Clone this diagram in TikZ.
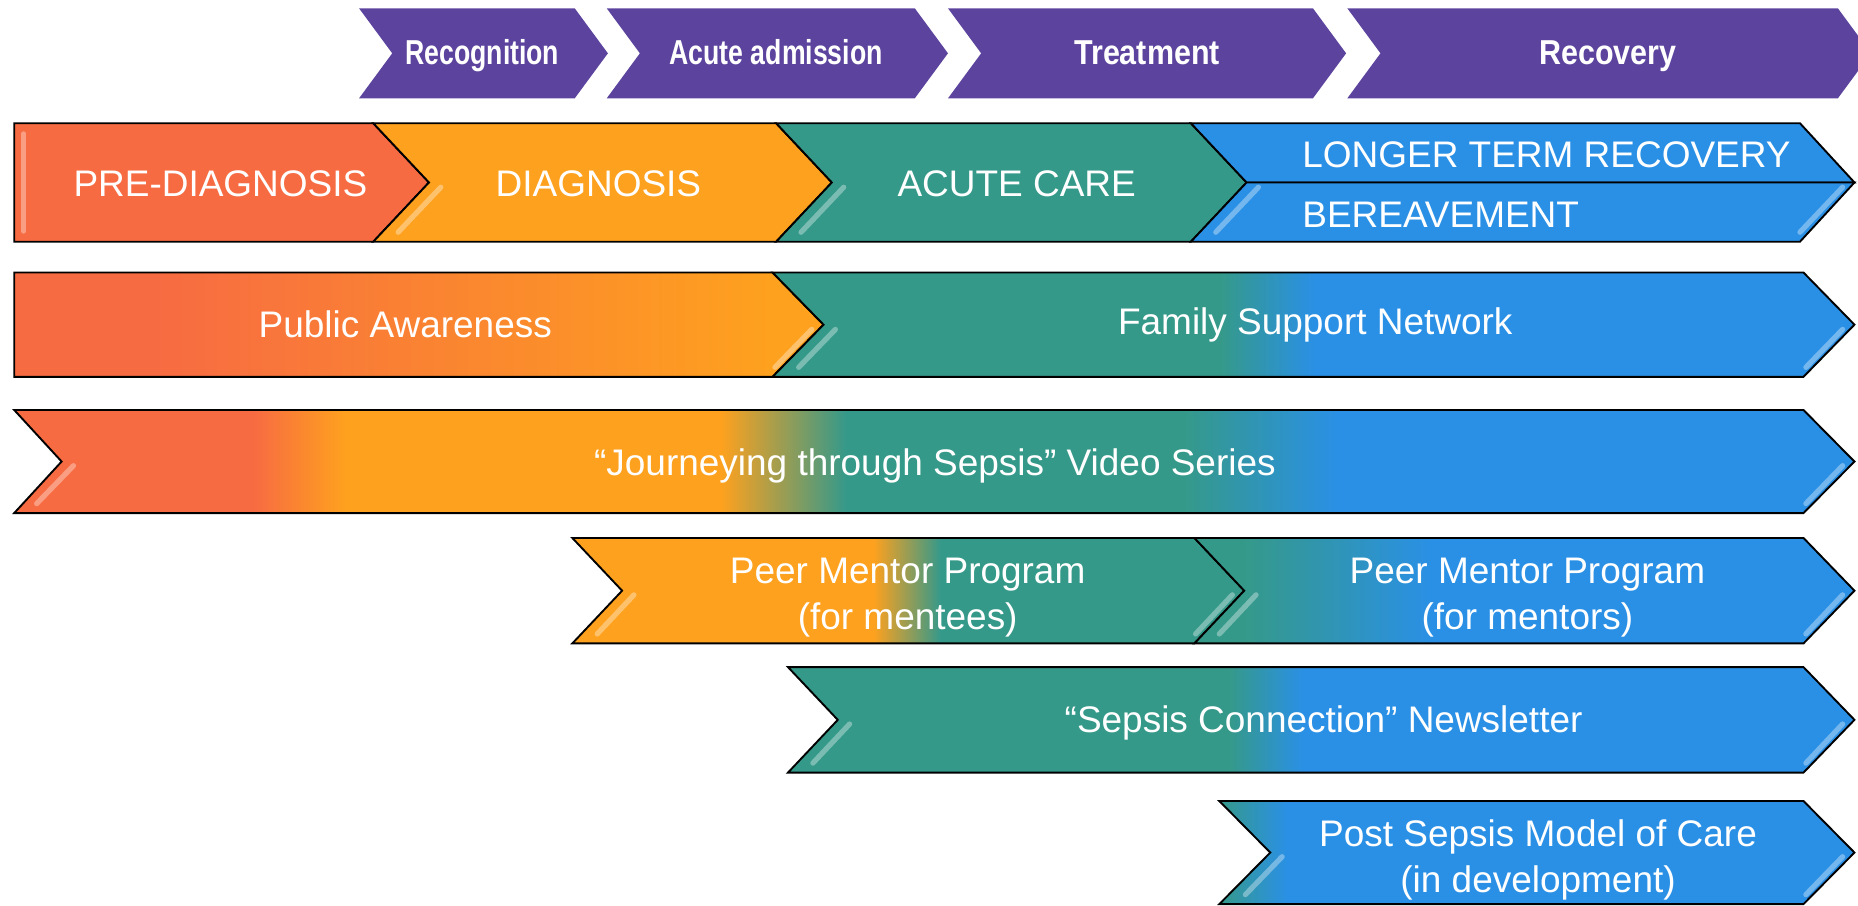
\documentclass[tikz,border=0pt]{standalone}
\usepackage{fontspec}
\setmainfont{Liberation Sans}
\newfontfamily\stagefont[FakeStretch=0.88]{Liberation Sans}
\newfontfamily\narrowstagefont[FakeStretch=0.77]{Liberation Sans}

\definecolor{stagePurple}{HTML}{5C449E}
\definecolor{sred}{HTML}{F76B42}
\definecolor{sorange}{HTML}{FEA11E}
\definecolor{steal}{HTML}{35998A}
\definecolor{sblue}{HTML}{2A90E6}

% colour runs along the bands (25bp = left end, 75bp = right end)
\pgfdeclarehorizontalshading{awareness}{100bp}{color(0bp)=(sred); color(33.6bp)=(sred); color(71.7bp)=(sorange); color(100bp)=(sorange)}
\pgfdeclarehorizontalshading{family}{100bp}{color(0bp)=(steal); color(45.7bp)=(steal); color(50.1bp)=(sblue); color(100bp)=(sblue)}
\pgfdeclarehorizontalshading{journey}{100bp}{color(0bp)=(sred); color(31.5bp)=(sred); color(34bp)=(sorange); color(44.2bp)=(sorange); color(47.6bp)=(steal); color(56.8bp)=(steal); color(61bp)=(sblue); color(100bp)=(sblue)}
\pgfdeclarehorizontalshading{mentees}{100bp}{color(0bp)=(sorange); color(47.4bp)=(sorange); color(52.4bp)=(steal); color(100bp)=(steal)}
\pgfdeclarehorizontalshading{mentors}{100bp}{color(0bp)=(steal); color(28.8bp)=(steal); color(43.1bp)=(sblue); color(100bp)=(sblue)}
\pgfdeclarehorizontalshading{newsletter}{100bp}{color(0bp)=(steal); color(45.7bp)=(steal); color(49.2bp)=(sblue); color(100bp)=(sblue)}
\pgfdeclarehorizontalshading{postcare}{100bp}{color(0bp)=(steal); color(25bp)=(steal); color(30.4bp)=(sblue); color(100bp)=(sblue)}

\tikzset{
  stage/.style={fill=stagePurple},
  stagetext/.style={text=white, font=\stagefont\bfseries\fontsize{14.6}{17}\selectfont,
    text height=1.38ex, text depth=0pt},
  narrowstage/.style={stagetext, font=\narrowstagefont\bfseries\fontsize{14.6}{17}\selectfont},
  band/.style={draw=black, line width=0.8pt, line join=miter},
  bandtext/.style={text=white, font=\fontsize{15.6}{19.5}\selectfont, align=center},
  shine/.style={draw=white, draw opacity=.35, line width=2.2pt, line cap=round}
}

\begin{document}
\begin{tikzpicture}[x=0.5pt,y=-0.5pt]

\useasboundingbox (0,0) rectangle (1568,764);

% the purple stages on top
\fill[stage] (303,7) -- (485,7) -- (513,45) -- (485,83) -- (303,83) -- (331,45) -- cycle;
\fill[stage] (512,7) -- (772,7) -- (800,45) -- (772,83) -- (512,83) -- (540,45) -- cycle;
\fill[stage] (800,7) -- (1108,7) -- (1136,45) -- (1108,83) -- (800,83) -- (828,45) -- cycle;
\fill[stage] (1137,7) -- (1551,7) -- (1579,45) -- (1551,83) -- (1137,83) -- (1165,45) -- cycle;
\node[narrowstage] (recog) at (407,47) {Recognition};
\node[narrowstage] (admit) at (655,47) {Acute admission};
\node[stagetext] (treat) at (968,47) {Treatment};
\node[stagetext] (recov) at (1357,47) {Recovery};

% the phases
\draw[band, fill=sred] (12,104) -- (315,104) -- (362,154) -- (315,204) -- (12,204) -- cycle;
\draw[band, fill=sorange] (315,104) -- (655,104) -- (702,154) -- (655,204) -- (315,204) -- (362,154) -- cycle;
\draw[band, fill=steal] (655,104) -- (1005,104) -- (1052,154) -- (1005,204) -- (655,204) -- (702,154) -- cycle;
\draw[band, fill=sblue] (1005,104) -- (1519,104) -- (1565,154) -- (1052,154) -- cycle;
\draw[band, fill=sblue] (1052,154) -- (1565,154) -- (1519,204) -- (1005,204) -- cycle;
\node[bandtext] (prediag) at (186,155) {PRE-DIAGNOSIS};
\node[bandtext] (diag) at (505,155) {DIAGNOSIS};
\node[bandtext] (acute) at (858,155) {ACUTE CARE};
\node[bandtext, anchor=west] (longer) at (1092,131) {LONGER TERM RECOVERY};
\node[bandtext, anchor=west] (bereave) at (1092,181) {BEREAVEMENT};

% the programs
\draw[band, shading=awareness] (12,230) -- (652,230) -- (695,274) -- (652,318) -- (12,318) -- cycle;
\draw[band, shading=family] (652,230) -- (1522,230) -- (1565,274) -- (1522,318) -- (652,318) -- (695,274) -- cycle;
\draw[band, shading=journey] (12,346) -- (1522,346) -- (1565,389.5) -- (1522,433) -- (12,433) -- (52,389.5) -- cycle;
\draw[band, shading=mentees] (483,454) -- (1008,454) -- (1050,498.5) -- (1008,543) -- (483,543) -- (525,498.5) -- cycle;
\draw[band, shading=mentors] (1008,454) -- (1522,454) -- (1565,498.5) -- (1522,543) -- (1008,543) -- (1050,498.5) -- cycle;
\draw[band, shading=newsletter] (665,563) -- (1522,563) -- (1565,607.5) -- (1522,652) -- (665,652) -- (707,607.5) -- cycle;
\draw[band, shading=postcare] (1029,676) -- (1522,676) -- (1565,719.5) -- (1522,763) -- (1029,763) -- (1072,719.5) -- cycle;

\node[bandtext] (awareness) at (342,274) {Public Awareness};
\node[bandtext] (family) at (1110,274) {Family Support Network};
\node[bandtext] (journey) at (789,393.5) {“Journeying through Sepsis” Video Series};
\node[bandtext] (mentees) at (766,504) {Peer Mentor Program\\(for mentees)};
\node[bandtext] (mentors) at (1289,504) {Peer Mentor Program\\(for mentors)};
\node[bandtext] (newsletter) at (1117,610) {“Sepsis Connection” Newsletter};
\node[bandtext] (postcare) at (1298,726) {Post Sepsis Model of Care\\(in development)};

% the light streaks
\draw[shine] (20,113) -- (20,195);
\draw[shine] (372,158) -- (336,196);
\draw[shine] (712,158) -- (676,196);
\draw[shine] (1062,158) -- (1026,196);
\draw[shine] (1555,158) -- (1519,196);
\draw[shine] (685,278) -- (654,310);
\draw[shine] (705,278) -- (674,310);
\draw[shine] (1555,278) -- (1524,310);
\draw[shine] (62,393) -- (31,425);
\draw[shine] (1555,393) -- (1524,425);
\draw[shine] (535,502) -- (504,535);
\draw[shine] (1040,502) -- (1009,535);
\draw[shine] (1060,502) -- (1029,535);
\draw[shine] (1555,502) -- (1524,535);
\draw[shine] (717,611) -- (686,644);
\draw[shine] (1555,611) -- (1524,644);
\draw[shine] (1082,723) -- (1051,755);
\draw[shine] (1555,723) -- (1524,755);

\end{tikzpicture}
\end{document}
